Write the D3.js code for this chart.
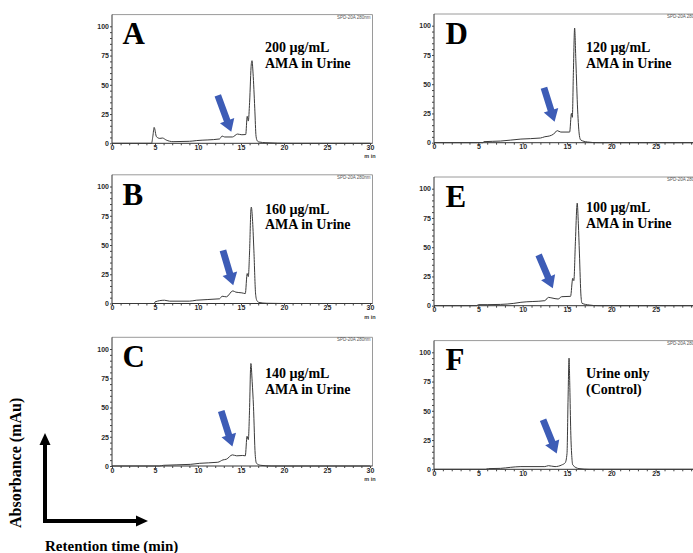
<!DOCTYPE html>
<html><head><meta charset="utf-8">
<script src="https://cdn.jsdelivr.net/npm/d3@7"></script>
<style>body{margin:0;background:#fff;} svg{display:block;}</style>
</head><body>
<svg id="c" width="693" height="553"></svg>
<script>
// ---- data ----
const panelIds = ["A","B","C","D","E","F"];
const panelLines1 = ["200 µg/mL","160 µg/mL","140 µg/mL","120 µg/mL","100 µg/mL","Urine only"];
const panelLines2 = ["AMA in Urine","AMA in Urine","AMA in Urine","AMA in Urine","AMA in Urine","(Control)"];
const xTicks = [0,5,10,15,20,25,30];
const yTicks = [0,25,50,75,100];
const detectorLabel = "SPD-20A 280nm";

const traceA = [[0,0],[4.6,0],[4.75,6],[4.9,13.6],[5.17,5.6],[5.56,4.2],[5.87,4.5],[6.3,2.8],[7.1,1.4],[9,1.7],[9.8,2.3],[12.5,3.7],[12.8,6.2],[13.1,5.4],[14,5.4],[14.6,7.9],[15.1,7.3],[15.55,7.5],[15.72,23],[15.85,19],[16.0,35],[16.2,68],[16.28,70.6],[16.4,60],[16.6,30],[16.75,6],[16.9,2],[17.1,1.1],[17.9,0.5],[20.6,0],[30,0]];
const traceB = [[0,0],[4.9,0],[5,1.4],[6.1,2.8],[6.7,2],[9,2],[9.8,2.8],[12.5,4],[12.8,6.2],[13.3,5.7],[14.05,10.8],[14.4,9.7],[15.1,9.1],[15.5,8.5],[15.72,25.6],[15.85,23],[16.0,45],[16.15,80],[16.2,82.4],[16.35,70],[16.5,45],[16.7,8],[16.85,2.5],[17.1,0.9],[18,0.2],[20,0],[30,0]];
const traceC = [[0,0],[5.5,0],[6,0.6],[9.1,1.4],[10.2,2.3],[12.3,3.2],[12.9,5.2],[13.3,5.8],[14,9.5],[14.5,8.7],[15.2,9],[15.5,8.7],[15.7,25.4],[15.85,22.5],[16.0,50],[16.12,85],[16.15,87.6],[16.3,72],[16.45,51],[16.65,10],[16.8,2.3],[17.3,0.6],[18.5,0],[30,0]];
const traceD = [[0,0],[5.5,0],[5.64,0.9],[7.5,1.4],[9.8,3.1],[12,4],[12.5,5.1],[13,5.7],[13.5,7.4],[13.9,10.3],[14.3,9.1],[15,9.1],[15.3,9.1],[15.5,25],[15.6,21.7],[15.72,60],[15.86,98],[16.0,70],[16.2,28],[16.4,6],[16.55,2.3],[17.3,0.6],[18.5,0],[30,0]];
const traceE = [[0,0],[4.8,0],[5,0.9],[6,0.9],[7.5,1.1],[9,2],[9.8,2.9],[12.5,4.3],[12.9,7.1],[13.3,6.6],[14,5.7],[14.4,7.7],[15.4,8],[15.65,23.4],[15.77,21.4],[15.95,55],[16.12,86],[16.15,87.7],[16.28,70],[16.4,45],[16.58,8],[16.7,2],[17.5,0.6],[18.5,0],[30,0]];
const traceF = [[0,0],[5.8,0],[6.15,0.6],[7.5,0.8],[8.65,1.7],[9.8,2.3],[12.5,2.3],[12.9,3.1],[13.65,2.3],[14.4,3.7],[14.8,5.6],[15,13.5],[15.12,60],[15.23,95],[15.32,70],[15.42,33],[15.55,10],[15.65,3.7],[16.35,0.6],[17.5,0],[30,0]];
const traces = [traceA,traceB,traceC,traceD,traceE,traceF];

// arrow tail and tip, in data units (min, mAu)
const arrowTail = [[12.3,41],[12.9,45.4],[12.7,47],[12.4,47],[11.8,43.4],[12.3,42.3]];
const arrowTip  = [[13.87,9.8],[14.1,15.6],[14.0,16.7],[13.6,18],[13.4,14.9],[13.84,13.5]];

// ---- layout (positions only) ----
const colX = [[112,370],[434,700]];
const panelY0 = [143.3,303.5,466,142.7,305.7,469.3];
const yPix100 = 117;

const svg = d3.select("#c");
const serif = "'Liberation Serif','Times New Roman',serif";
const narrow = "'Liberation Sans Narrow','Liberation Sans',Arial,sans-serif";

panelIds.forEach((id,i)=>{
  const col = i<3?0:1;
  const [x0,x1] = colX[col];
  const y0 = panelY0[i];
  const x = d3.scaleLinear().domain([0,30]).range([x0,x1]);
  const y = d3.scaleLinear().domain([0,100]).range([y0,y0-yPix100]);
  const g = svg.append("g");
  const top = y(110);
  const right = x1+2.5;
  // frame
  g.append("path").attr("d",`M${x0},${top}H${right}V${y0}`).attr("fill","none").attr("stroke","#9a9a9a").attr("stroke-width",1);
  // axes
  const xa = d3.axisBottom(x).tickValues(d3.range(0,31,1)).tickSize(2).tickFormat(d=> xTicks.includes(d)? d : "");
  const gx = g.append("g").attr("transform",`translate(0,${y0})`).call(xa);
  gx.select(".domain").attr("stroke","#333").attr("d",`M${x0},0H${right}`);
  gx.selectAll(".tick line").attr("stroke","#444");
  gx.selectAll(".tick text").attr("font-family",narrow).attr("font-weight","bold").attr("font-size",7).attr("fill","#2a2a2a").attr("dy","0.45em").attr("y",3.5);
  const ya = d3.axisLeft(y).tickValues(d3.range(0,101,5)).tickSize(2).tickFormat(d=> yTicks.includes(d)? d : "");
  const gy = g.append("g").attr("transform",`translate(${x0},0)`).call(ya);
  gy.select(".domain").attr("stroke","#333").attr("d",`M0,${y0}V${top}`);
  gy.selectAll(".tick line").attr("stroke","#444");
  gy.selectAll(".tick text").attr("font-family",narrow).attr("font-weight","bold").attr("font-size",7).attr("fill","#2a2a2a").attr("x",-3);
  // min label
  g.append("text").attr("x",x(30)).attr("y",y0+15).attr("text-anchor","middle").attr("font-family",narrow).attr("font-weight","bold").attr("font-size",5.5).attr("fill","#333").text("m in");
  // detector label
  g.append("text").attr("x",right-2).attr("y",top+4).attr("text-anchor","end").attr("font-family",narrow).attr("font-size",4.5).attr("fill","#555").text(detectorLabel);
  // trace
  const line = d3.line().x(d=>x(d[0])).y(d=>y(d[1])).curve(d3.curveMonotoneX);
  g.append("path").datum(traces[i]).attr("d",line).attr("fill","none").attr("stroke","#3a3a3a").attr("stroke-width",1);
  // blue arrow
  const t = [x(arrowTail[i][0]), y(arrowTail[i][1])];
  const p = [x(arrowTip[i][0]), y(arrowTip[i][1])];
  const dx = p[0]-t[0], dy = p[1]-t[1], L = Math.hypot(dx,dy);
  const u = [dx/L, dy/L], n = [-u[1], u[0]];
  const hl = 12, sw = 3.4, hw = 7.6;
  const nk = [p[0]-u[0]*hl, p[1]-u[1]*hl];
  const pts = [
    [t[0]+n[0]*sw, t[1]+n[1]*sw],
    [nk[0]+n[0]*sw, nk[1]+n[1]*sw],
    [nk[0]+n[0]*hw, nk[1]+n[1]*hw],
    p,
    [nk[0]-n[0]*hw, nk[1]-n[1]*hw],
    [nk[0]-n[0]*sw, nk[1]-n[1]*sw],
    [t[0]-n[0]*sw, t[1]-n[1]*sw]
  ];
  g.append("path").attr("d","M"+pts.map(q=>q.join(",")).join("L")+"Z").attr("fill","#3d5cb6");
  // panel letter
  g.append("text").attr("x",x0+(col?11.5:10.5)).attr("y",y0-99).attr("font-family",serif).attr("font-weight","bold").attr("font-size",31).attr("fill","#000").text(id);
  // label text
  const lx = x0 + (col?152:153);
  const ly = y0 - (i===0?91.6:i===1?90:i===2?88.3:i===3?91:i===4?93.4:91.6);
  g.append("text").attr("x",lx).attr("y",ly).attr("font-family",serif).attr("font-weight","bold").attr("font-size",14).attr("fill","#000").text(panelLines1[i]);
  g.append("text").attr("x",lx).attr("y",ly+15.8).attr("font-family",serif).attr("font-weight","bold").attr("font-size",14).attr("fill","#000").text(panelLines2[i]);
});

// ---- bottom-left axis key ----
const key = svg.append("g");
key.append("path").attr("d","M45,521V444").attr("stroke","#000").attr("stroke-width",4).attr("fill","none");
key.append("path").attr("d","M39.5,445L45,433L50.5,445Z").attr("fill","#000");
key.append("path").attr("d","M43,521H137").attr("stroke","#000").attr("stroke-width",4).attr("fill","none");
key.append("path").attr("d","M136,515.5L148,521L136,526.5Z").attr("fill","#000");
key.append("text").attr("transform","translate(21,528) rotate(-90)").attr("font-family",serif).attr("font-weight","bold").attr("font-size",16).attr("fill","#000").text("Absorbance (mAu)");
key.append("text").attr("x",45).attr("y",550.5).attr("font-family",serif).attr("font-weight","bold").attr("font-size",15).attr("fill","#000").text("Retention time (min)");
</script>
</body></html>
